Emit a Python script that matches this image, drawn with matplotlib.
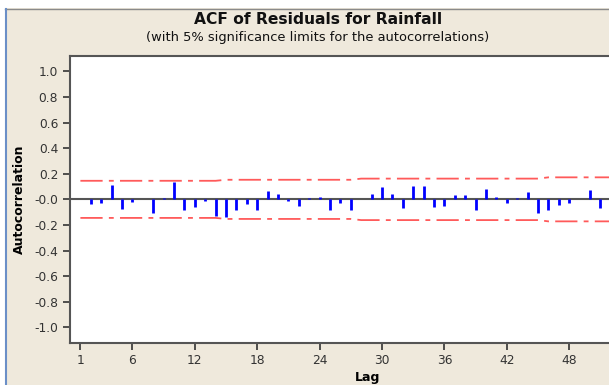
import numpy as np
import matplotlib
matplotlib.use("Agg")
from matplotlib import pyplot as plt
from matplotlib.patches import Rectangle
from matplotlib.lines import Line2D

# vrijednosti ACF ocitane sa slike (lag 1..51)
lagovi = np.arange(1, 52)
acf = [0.003, -0.033, -0.030, 0.112, -0.072, -0.020, 0.003, -0.105, 0.012, 0.133,
       -0.080, -0.057, -0.010, -0.128, -0.140, -0.083, -0.036, -0.086, 0.064, 0.042,
       -0.012, -0.052, 0.009, 0.020, -0.082, -0.028, -0.082, 0.002, 0.042, 0.094,
       0.042, -0.068, 0.103, 0.103, -0.060, -0.052, 0.032, 0.031, -0.084, 0.084,
       0.020, -0.032, 0.010, 0.056, -0.103, -0.080, -0.042, -0.032, 0.002, 0.075,
       -0.068]

# granice znacajnosti (5%)
granica_lag = [1, 14, 15, 27, 28, 45, 46, 56]
granica = [0.145, 0.145, 0.153, 0.153, 0.162, 0.162, 0.172, 0.172]

x_oznake = [1, 6, 12, 18, 24, 30, 36, 42, 48]
y_oznake = np.arange(-1.0, 1.01, 0.2)

plt.rcParams["font.family"] = "DejaVu Sans"
plt.rcParams["axes.unicode_minus"] = False
plt.rcParams["lines.scale_dashes"] = False

W, H = 609, 385
bez = "#EFE9DC"
siva = "#555555"
fig = plt.figure(figsize=(W / 100, H / 100), dpi=100, facecolor=bez)

# okvir prozora
fig.add_artist(Rectangle((0, 1 - 8 / H), 1, 8 / H, transform=fig.transFigure,
                         facecolor="white", edgecolor="none"))
fig.add_artist(Rectangle((0, 0), 5 / W, 1, transform=fig.transFigure,
                         facecolor="white", edgecolor="none"))
fig.add_artist(Line2D([5 / W, 1], [1 - 8.5 / H] * 2, transform=fig.transFigure,
                      color="#8A8A8A", lw=1.0))
fig.add_artist(Line2D([5.5 / W] * 2, [0, 1 - 8.5 / H], transform=fig.transFigure,
                      color="#6B8FC7", lw=1.5))

lijevo, gore, dolje = 70, 56, 342.7
ax = fig.add_axes([lijevo / W, (H - dolje) / H, 570 / W, (dolje - gore) / H])
ax.set_facecolor("white")

ax.axhline(0, color=siva, lw=1.5, zorder=2)
ax.vlines(lagovi, 0, acf, color="#0000FF", lw=2.0, zorder=3)
ax.plot(granica_lag, granica, color="#FF5A5A", lw=1.3,
        linestyle=(0, (16, 4.5, 3.5, 4.5)), zorder=2)
ax.plot(granica_lag, [-g for g in granica], color="#FF5A5A", lw=1.3,
        linestyle=(0, (16, 4.5, 3.5, 4.5)), zorder=2)

ax.set_xlim(0, 570 / 10.4)
ax.set_ylim(-1.12, 1.12)
ax.set_xticks(x_oznake)
ax.set_yticks(y_oznake)
ax.set_yticklabels([f"{v:.1f}" for v in y_oznake])

for s in ax.spines.values():
    s.set_color(siva)
    s.set_linewidth(1.5)
ax.tick_params(colors="#333333", labelsize=8.8, length=5, width=1.2)
ax.tick_params(axis="x", pad=3)

ax.set_xlabel("Lag", fontsize=9, fontweight="bold", labelpad=1)
ax.set_ylabel("Autocorrelation", fontsize=9, fontweight="bold", labelpad=6)
ax.xaxis.set_label_coords((368 - lijevo) / 570, -0.1)

fig.text(318 / W, 1 - 19 / H, "ACF of Residuals for Rainfall", ha="center",
         va="center", fontsize=11.2, fontweight="bold", color="#111111")
fig.text(318 / W, 1 - 37 / H, "(with 5% significance limits for the autocorrelations)",
         ha="center", va="center", fontsize=9.4, color="#111111")

fig.savefig("out.png", dpi=100, facecolor=bez)
